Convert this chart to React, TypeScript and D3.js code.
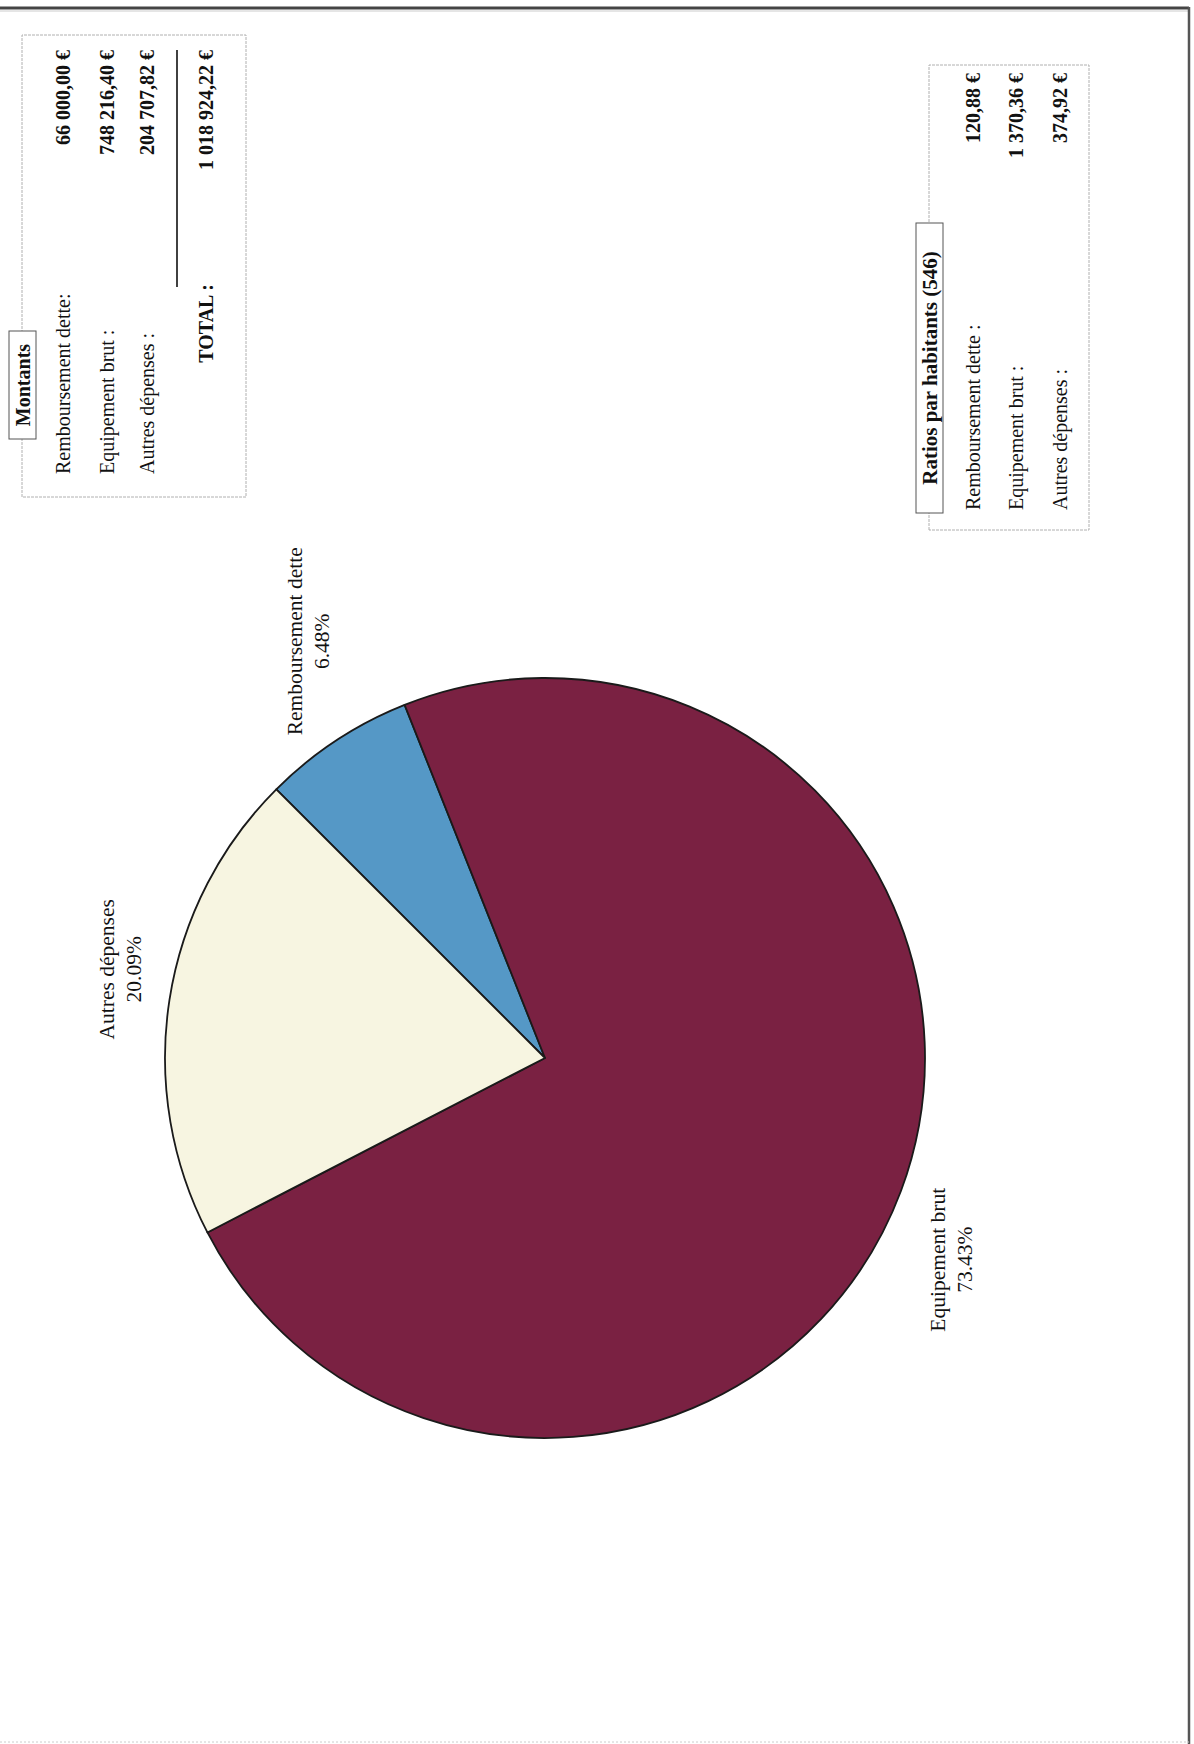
import React from 'react';
import * as d3 from 'd3';

// Dépenses d'investissement, page scannée (tournée de 90°)
const categories = ['Remboursement dette', 'Equipement brut', 'Autres dépenses'];
const amounts = [66000.0, 748216.4, 204707.82];
const percentLabels = ['6.48%', '73.43%', '20.09%'];
const ratios = [120.88, 1370.36, 374.92];
const inhabitants = 546;
const sliceColors = ['#5598c6', '#7a2142', '#f7f5e1'];

const W = 1194;
const H = 1744;
const serif = "'Liberation Serif', 'Times New Roman', serif";

const locale = d3.formatLocale({ decimal: ',', thousands: ' ', grouping: [3], currency: ['', ' €'] });
const euro = (v: number) => locale.format(',.2f')(v) + ' €';

let ctx: CanvasRenderingContext2D | null = null;
const measure = (text: string, size: number, weight = 'normal') => {
  if (!ctx) ctx = document.createElement('canvas').getContext('2d');
  if (!ctx) return text.length * size * 0.45;
  ctx.font = `${weight} ${size}px 'Liberation Serif'`;
  return ctx.measureText(text).width;
};

// repère de la page d'origine (paysage) : x vers le haut de l'écran, y vers la droite
const pieCx = 686;
const pieCy = 545;
const radius = 380;
const labelSize = 21.5;
const labelLine = 27;
const labelGap = 14;
const labelShift = (4.5 * Math.PI) / 180;
const labelSlide = -12;

const pie = d3.pie<number>().sort(null).startAngle(Math.PI / 4).endAngle(Math.PI / 4 + 2 * Math.PI);
const arc = d3.arc<d3.PieArcDatum<number>>().innerRadius(0).outerRadius(radius);

const rowSize = 20;

const Box: React.FC<{
  x0: number; x1: number; y0: number; y1: number;
  tx0: number; tx1: number; title: string; titleSize: number;
}> = ({ x0, x1, y0, y1, tx0, tx1, title, titleSize }) => (
  <g>
    <rect x={x0} y={y0} width={x1 - x0} height={y1 - y0} fill="none" stroke="#b0b0b0" strokeWidth={1} strokeDasharray="3,1" />
    <rect x={tx0} y={y0 - 13} width={tx1 - tx0} height={27} fill="#fff" stroke="#555" strokeWidth={1} />
    <text x={(tx0 + tx1) / 2} y={y0 + 0.5} textAnchor="middle" dominantBaseline="central"
      fontFamily={serif} fontWeight="bold" fontSize={titleSize} fill="#111">{title}</text>
  </g>
);

export default function App() {
  const arcs = pie(amounts);

  const montRows = [63, 107, 147];
  const ratioRows = [973, 1016, 1060];
  const total = d3.sum(amounts);

  return (
    <svg width={W} height={H} style={{ position: 'absolute', left: 0, top: 0, background: '#fff' }}>
      <rect width={W} height={H} fill="#fff" />
      {/* cadre de la page */}
      <line x1={0} y1={8} x2={1189} y2={8} stroke="#444" strokeWidth={3} />
      <line x1={0} y1={11} x2={1189} y2={11} stroke="#ccc" strokeWidth={1} />
      <line x1={1189} y1={7} x2={1189} y2={H} stroke="#555" strokeWidth={2.5} />
      <line x1={0} y1={1742} x2={1189} y2={1742} stroke="#ccc" strokeWidth={1} strokeDasharray="2,2" />

      <g transform={`translate(0,${H}) rotate(-90)`}>
        {/* camembert */}
        <g transform={`translate(${pieCx},${pieCy})`}>
          {arcs.map((a, i) => (
            <path key={i} d={arc(a) || ''} fill={sliceColors[i]} stroke="#1a1a1a" strokeWidth={1.8} strokeLinejoin="round" />
          ))}
        </g>
        {arcs.map((a, i) => {
          const mid = (a.startAngle + a.endAngle) / 2 + labelShift;
          const s = Math.sin(mid);
          const c = Math.cos(mid);
          const w = Math.max(measure(categories[i], labelSize), measure(percentLabels[i], labelSize));
          const h = labelLine * 2;
          const R = radius + labelGap + (Math.abs(s) * w) / 2 + (Math.abs(c) * h) / 2;
          const x = pieCx + R * s + labelSlide;
          const y = pieCy - R * c;
          return (
            <g key={i} fontFamily={serif} fontSize={labelSize} fill="#111" textAnchor="middle">
              <text x={x} y={y - labelLine / 2} dominantBaseline="central">{categories[i]}</text>
              <text x={x} y={y + labelLine / 2} dominantBaseline="central">{percentLabels[i]}</text>
            </g>
          );
        })}

        {/* Montants */}
        <Box x0={1247} x1={1709} y0={22} y1={246} tx0={1305} tx1={1413} title="Montants" titleSize={20} />
        <g fontFamily={serif} fontSize={rowSize} fill="#111">
          {categories.map((c, i) => (
            <text key={c} x={1270} y={montRows[i]} dominantBaseline="central">
              {c + (i === 0 ? ':' : ' :')}
            </text>
          ))}
          {amounts.map((v, i) => (
            <text key={i} x={1694} y={montRows[i]} dominantBaseline="central" textAnchor="end" fontWeight="bold">
              {euro(v)}
            </text>
          ))}
          <line x1={1457} x2={1694} y1={177} y2={177} stroke="#111" strokeWidth={1.6} />
          <text x={1460} y={206} dominantBaseline="central" textAnchor="end" fontWeight="bold">TOTAL :</text>
          <text x={1694} y={206} dominantBaseline="central" textAnchor="end" fontWeight="bold">{euro(total)}</text>
        </g>

        {/* Ratios par habitants */}
        <Box x0={1214} x1={1679} y0={929} y1={1089} tx0={1231} tx1={1521}
          title={`Ratios par habitants (${inhabitants})`} titleSize={21} />
        <g fontFamily={serif} fontSize={rowSize} fill="#111">
          {categories.map((c, i) => (
            <text key={c} x={1234} y={ratioRows[i]} dominantBaseline="central">{c + ' :'}</text>
          ))}
          {ratios.map((v, i) => (
            <text key={i} x={1671} y={ratioRows[i]} dominantBaseline="central" textAnchor="end" fontWeight="bold">
              {euro(v)}
            </text>
          ))}
        </g>
      </g>
    </svg>
  );
}
